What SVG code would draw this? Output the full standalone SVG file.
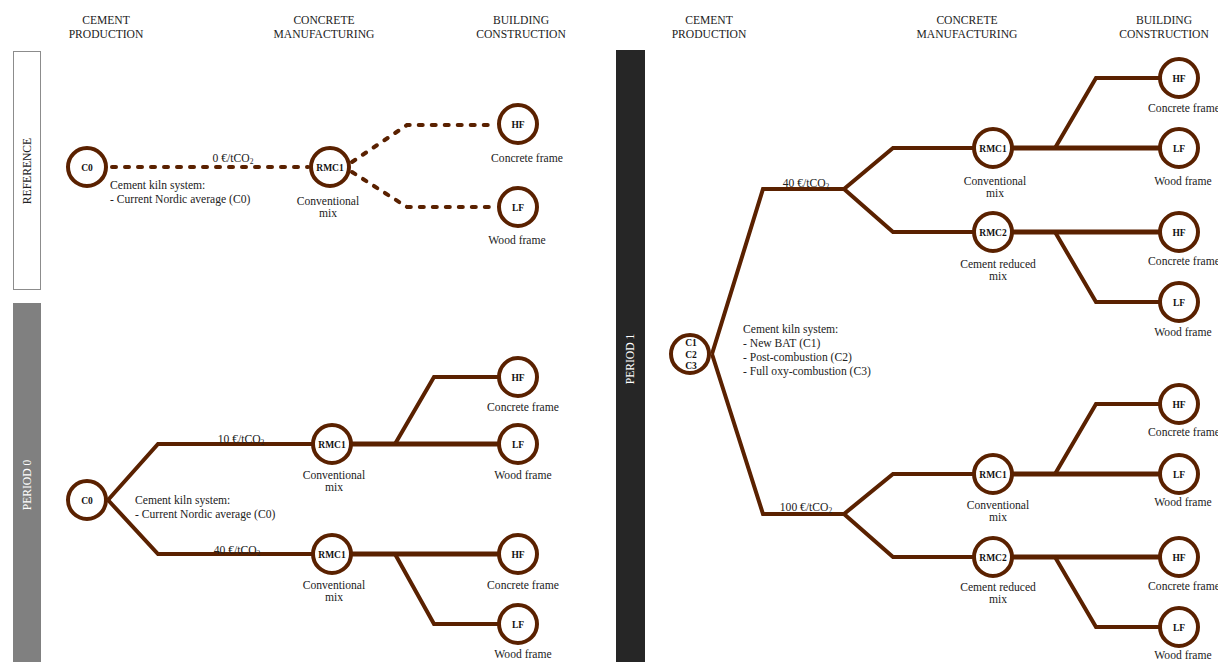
<svg xmlns="http://www.w3.org/2000/svg" width="1218" height="662" viewBox="0 0 1218 662">
<style>
text{font-family:"Liberation Serif","Times New Roman",serif;fill:#222}
.hdr{font-size:11.6px;text-anchor:middle}
.lbl{font-size:11.6px}
.c{text-anchor:middle}
.vt{font-size:11.6px;text-anchor:middle}
.node circle{fill:#fff;stroke:#5a2100;stroke-width:4}
.nid{font-size:9.5px;font-weight:bold;text-anchor:middle;fill:#111}
.edge{fill:none;stroke:#5a2100;stroke-width:4;stroke-linejoin:miter}
.trunk{stroke-width:5}
.dash{stroke-dasharray:4 9;stroke-linecap:round}
.sub{font-size:7.5px}
</style>
<rect width="1218" height="662" fill="#fff"/>

<g id="headers">
<text class="hdr" x="106" y="24">CEMENT</text>
<text class="hdr" x="106" y="38">PRODUCTION</text>
<text class="hdr" x="324" y="24">CONCRETE</text>
<text class="hdr" x="324" y="38">MANUFACTURING</text>
<text class="hdr" x="521" y="24">BUILDING</text>
<text class="hdr" x="521" y="38">CONSTRUCTION</text>
<text class="hdr" x="709" y="24">CEMENT</text>
<text class="hdr" x="709" y="38">PRODUCTION</text>
<text class="hdr" x="967" y="24">CONCRETE</text>
<text class="hdr" x="967" y="38">MANUFACTURING</text>
<text class="hdr" x="1164" y="24">BUILDING</text>
<text class="hdr" x="1164" y="38">CONSTRUCTION</text>
</g>

<g id="bars">
<rect x="13.5" y="51.5" width="27" height="238" fill="#fff" stroke="#8c8c8c" stroke-width="1"/>
<text class="vt" transform="translate(31,171) rotate(-90)">REFERENCE</text>
<rect x="13" y="303" width="28" height="359" fill="#808080"/>
<text class="vt" transform="translate(31,485) rotate(-90)" style="fill:#fff">PERIOD 0</text>
<rect x="616" y="50" width="29" height="612" fill="#262626"/>
<text class="vt" transform="translate(634,359) rotate(-90)" style="fill:#fff">PERIOD 1</text>
</g>

<g id="connectors">
<path class="edge dash" d="M112,167 H308"/>
<path class="edge dash" d="M352,162 L407,125 H496"/>
<path class="edge dash" d="M352,172 L407,207 H496"/>
<path class="edge" d="M108,500 L158,444 H332"/>
<path class="edge" d="M108,500 L158,554 H332"/>
<path class="edge trunk" d="M332,444 H518"/>
<path class="edge" d="M395,444 L434,377 H518"/>
<path class="edge trunk" d="M332,554 H518"/>
<path class="edge" d="M395,554 L434,624 H518"/>
<path class="edge" d="M712,354 L763,189 H844"/>
<path class="edge" d="M712,354 L763,514 H844"/>
<path class="edge" d="M844,189 L893,148 H993"/>
<path class="edge" d="M844,189 L893,232 H993"/>
<path class="edge" d="M844,514 L893,474 H993"/>
<path class="edge" d="M844,514 L893,557 H993"/>
<path class="edge trunk" d="M993,148 H1179"/>
<path class="edge" d="M1055,148 L1096,78 H1179"/>
<path class="edge trunk" d="M993,232 H1179"/>
<path class="edge" d="M1055,232 L1096,302 H1179"/>
<path class="edge trunk" d="M993,474 H1179"/>
<path class="edge" d="M1055,474 L1096,404 H1179"/>
<path class="edge trunk" d="M993,557 H1179"/>
<path class="edge" d="M1055,557 L1096,627 H1179"/>
</g>

<g id="edge-labels">
<text class="lbl c" x="233" y="162">0 €/tCO<tspan class="sub" dy="2">2</tspan></text>
<text class="lbl c" x="241" y="443">10 €/tCO<tspan class="sub" dy="2">2</tspan></text>
<text class="lbl c" x="237" y="554">40 €/tCO<tspan class="sub" dy="2">2</tspan></text>
<text class="lbl c" x="806" y="187">40 €/tCO<tspan class="sub" dy="2">2</tspan></text>
<text class="lbl c" x="806" y="511">100 €/tCO<tspan class="sub" dy="2">2</tspan></text>
</g>

<g id="descriptions">
<text class="lbl" x="110" y="189">Cement kiln system:</text>
<text class="lbl" x="110" y="203">- Current Nordic average (C0)</text>
<text class="lbl" x="135" y="504">Cement kiln system:</text>
<text class="lbl" x="135" y="518">- Current Nordic average (C0)</text>
<text class="lbl" x="743" y="333">Cement kiln system:</text>
<text class="lbl" x="743" y="347">- New BAT (C1)</text>
<text class="lbl" x="743" y="361">- Post-combustion (C2)</text>
<text class="lbl" x="743" y="375">- Full oxy-combustion (C3)</text>
</g>

<g id="ref-C0" class="node"><circle cx="87" cy="167" r="19"/><text class="nid" x="87" y="170.5">C0</text></g>
<g id="ref-RMC1" class="node"><circle cx="330" cy="167" r="19"/><text class="nid" x="330" y="170.5">RMC1</text>
<text class="lbl c" x="328" y="205">Conventional</text><text class="lbl c" x="328" y="217">mix</text></g>
<g id="ref-HF" class="node"><circle cx="518" cy="124" r="19"/><text class="nid" x="518" y="127.5">HF</text>
<text class="lbl c" x="527" y="162">Concrete frame</text></g>
<g id="ref-LF" class="node"><circle cx="518" cy="207" r="19"/><text class="nid" x="518" y="210.5">LF</text>
<text class="lbl c" x="517" y="244">Wood frame</text></g>

<g id="p0-C0" class="node"><circle cx="87" cy="500" r="19"/><text class="nid" x="87" y="503.5">C0</text></g>
<g id="p0-RMC1-a" class="node"><circle cx="332" cy="444" r="19"/><text class="nid" x="332" y="447.5">RMC1</text>
<text class="lbl c" x="334" y="479">Conventional</text><text class="lbl c" x="334" y="491">mix</text></g>
<g id="p0-HF-a" class="node"><circle cx="518" cy="377" r="19"/><text class="nid" x="518" y="380.5">HF</text>
<text class="lbl c" x="523" y="411">Concrete frame</text></g>
<g id="p0-LF-a" class="node"><circle cx="518" cy="444" r="19"/><text class="nid" x="518" y="447.5">LF</text>
<text class="lbl c" x="523" y="479">Wood frame</text></g>
<g id="p0-RMC1-b" class="node"><circle cx="332" cy="554" r="19"/><text class="nid" x="332" y="557.5">RMC1</text>
<text class="lbl c" x="334" y="589">Conventional</text><text class="lbl c" x="334" y="601">mix</text></g>
<g id="p0-HF-b" class="node"><circle cx="518" cy="554" r="19"/><text class="nid" x="518" y="557.5">HF</text>
<text class="lbl c" x="523" y="589">Concrete frame</text></g>
<g id="p0-LF-b" class="node"><circle cx="518" cy="624" r="19"/><text class="nid" x="518" y="627.5">LF</text>
<text class="lbl c" x="523" y="658">Wood frame</text></g>

<g id="p1-C" class="node"><circle cx="690" cy="354" r="19"/>
<text class="nid" x="691" y="346">C1</text><text class="nid" x="691" y="357.5">C2</text><text class="nid" x="691" y="369">C3</text></g>
<g id="p1-RMC1-a" class="node"><circle cx="993" cy="148" r="19"/><text class="nid" x="993" y="151.5">RMC1</text>
<text class="lbl c" x="995" y="185">Conventional</text><text class="lbl c" x="995" y="197">mix</text></g>
<g id="p1-RMC2-a" class="node"><circle cx="993" cy="232" r="19"/><text class="nid" x="993" y="235.5">RMC2</text>
<text class="lbl c" x="998" y="268">Cement reduced</text><text class="lbl c" x="998" y="280">mix</text></g>
<g id="p1-HF-1" class="node"><circle cx="1179" cy="78" r="19"/><text class="nid" x="1179" y="81.5">HF</text>
<text class="lbl c" x="1184" y="112">Concrete frame</text></g>
<g id="p1-LF-1" class="node"><circle cx="1179" cy="148" r="19"/><text class="nid" x="1179" y="151.5">LF</text>
<text class="lbl c" x="1183" y="185">Wood frame</text></g>
<g id="p1-HF-2" class="node"><circle cx="1179" cy="232" r="19"/><text class="nid" x="1179" y="235.5">HF</text>
<text class="lbl c" x="1184" y="265">Concrete frame</text></g>
<g id="p1-LF-2" class="node"><circle cx="1179" cy="302" r="19"/><text class="nid" x="1179" y="305.5">LF</text>
<text class="lbl c" x="1183" y="336">Wood frame</text></g>
<g id="p1-RMC1-b" class="node"><circle cx="993" cy="474" r="19"/><text class="nid" x="993" y="477.5">RMC1</text>
<text class="lbl c" x="998" y="509">Conventional</text><text class="lbl c" x="998" y="521">mix</text></g>
<g id="p1-RMC2-b" class="node"><circle cx="993" cy="557" r="19"/><text class="nid" x="993" y="560.5">RMC2</text>
<text class="lbl c" x="998" y="591">Cement reduced</text><text class="lbl c" x="998" y="603">mix</text></g>
<g id="p1-HF-3" class="node"><circle cx="1179" cy="404" r="19"/><text class="nid" x="1179" y="407.5">HF</text>
<text class="lbl c" x="1184" y="436">Concrete frame</text></g>
<g id="p1-LF-3" class="node"><circle cx="1179" cy="474" r="19"/><text class="nid" x="1179" y="477.5">LF</text>
<text class="lbl c" x="1183" y="506">Wood frame</text></g>
<g id="p1-HF-4" class="node"><circle cx="1179" cy="557" r="19"/><text class="nid" x="1179" y="560.5">HF</text>
<text class="lbl c" x="1184" y="590">Concrete frame</text></g>
<g id="p1-LF-4" class="node"><circle cx="1179" cy="627" r="19"/><text class="nid" x="1179" y="630.5">LF</text>
<text class="lbl c" x="1183" y="659">Wood frame</text></g>
</svg>
